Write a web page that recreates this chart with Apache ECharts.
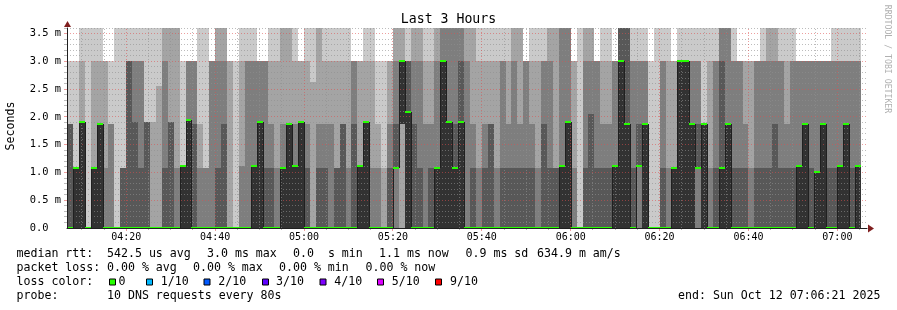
<!DOCTYPE html>
<html>
<head>
<meta charset="utf-8">
<script src="https://cdn.jsdelivr.net/npm/echarts@6/dist/echarts.min.js"></script>
<style>
html, body { margin: 0; padding: 0; background: #fff; }
#smokeChart { width: 897px; height: 310px; }
</style>
</head>
<body>
<div id="smokeChart"></div>
<script>
// smokeping DNS probe, last 3 hours, 10 pings per 80s step (values in ms, sorted per step)
const STEP = 80;           // seconds
const FIRST_STEP = 400;    // 04:06:40, seconds after 04:00
const AXIS_START = 400;    // 04:06:40
const AXIS_END = 11200;    // 07:06:40
const Y_MAX = 3.6;

const ping1 = [
  0,0,0,0,0,0,0,0,0,0, 0,0,0,0,0,0,0,0,0,0, 0,0,0,0,0,0,0,0,0,0, 0,0,0,0,0,0,0,0,0,0,
  0,0,0,0,0,0,0,0,0,0, 0,0,0,0,0,0,0,0,0,0, 0,0,0,0,0,0,0,0,0,0, 0,0,0,0,0,0,0,0,0,0,
  0,0,0,0,0,0,0,0,0,0, 0,0,0,0,0,0,0,0,0,0, 0,0,0,0,0,0,0,0,0,0, 0,0,0,0,0,0,0,0,0,0,
  0,0,0,0,0,0,0,0,0,0, 0,0,0,0
];
const ping2 = [
  0,0,0,0,0,0,0,0,0,0, 0,0,0,0,0,0,0,0,0,0, 0,0,0,0,0,0,0,0,0,0, 0,0,0,0,0,0,0,0,0,0,
  0,0,0,0,0,0,0,0,0,0, 0,0,0,0,0,0,0,0,0,0, 0,0,0,0,0,0,0,0,0,0, 0,0,0,0,0,0,0,0,0,0,
  0,0,0,0,0,0,0,0,0,0, 0,0,0,0,0,0,0,0,0,0, 0,0,0,0,0,0,0,0,0,0, 0,0,0,0,0,0,0,0,0,0,
  0,0,0,0,0,0,0,0,0,0, 0,0,0,0
];
const ping3 = [
  0,0,0,0,0,0,0,0,0,0, 0,0,0,0,0,0,0,0,0,0, 0,0,0,0,0,0,0,0,0,0, 0,0,0,0,0,0,0,0,0,0,
  0,0,0,0,0,0,0,0,0,0, 0,0,0,0,0,0,1.87,0,0,0, 0,0,0,0,0,0,0,0,0,0, 0,0,0,0,0,0,0,0,0,0,
  0,0,0,0,0,0,0,0,0,0, 0,0,0,0,0,0,0,0,0,0, 0,0,0,0,0,0,0,0,0,0, 0,0,0,0,0,0,0,0,0,0,
  0,0,0,0,0,0,0,0,0,0, 0,0,0,0
];
const ping4 = [
  0,0,0,0,0,0,0,0,0,0, 0,0,0,0,0,0,0,0,0,0, 0,0,0,0,0,0,0,0,0,0, 0,0,0,0,0,0,0,0,0,0,
  0,0,0,0,0,0,0,0,0,0, 0,0,0,0,0,1.08,1.87,0,0,0, 0,0,0,0,0,0,0,0,0,0, 0,0,0,0,0,0,0,0,0,0,
  0,0,0,0,0,0,0,0,0,0, 0,0,0,0,0,0,1.12,0,0,0, 0,0,0,0,0,0,1.08,0,0,0, 0,0,0,0,0,0,0,0,0,0,
  0,0,0,0,0,0,0,0,0,0, 0,0,0,0
];
const ping5 = [
  0,0,0,0,0,0,0,0,0,0, 0,0,0,0,0,0,0,0,0,0, 0,0,0,0,0,0,0,0,0,0, 0,0,0,0,0,0,0,0,0,0,
  0,0,0,0,0,0,0,0,0,0, 0,0,0,0,0,1.08,1.87,0,0,0, 0,0,0,0,0,0,0,0,0,0, 0,0,0,0,0,0,0,0,0,0,
  0,0,0,0,0,0,0,0,0,0, 0,0,0,0,0,0,1.12,0,0,0, 0,0,0,0,0,0,1.08,0,0,0, 0,0,0,0,0,0,0,0,0,0,
  0,0,0,0,0,0,0,0,0,0, 0,0,0,0
];
const ping6 = [
  0,1.08,1.91,0,1.08,1.87,0,0,0,0,  0,0,0,0,0,0,0,0,0,1.12,
  1.95,0,0,0,0,0,0,0,0,0,  0,1.12,1.91,0,0,0,1.08,1.87,1.12,1.91,
  0,0,0,0,0,0,0,0,0,1.12,  1.91,0,0,0,0,1.08,3.0,2.09,0,0,
  0,0,1.08,3.0,1.91,1.08,1.91,0,0,0,  0,0,0,0,0,0,0,0,0,0,
  0,0,0,1.12,1.91,0,0,0,0,0,  0,0,1.12,3.0,1.87,0,1.12,1.87,0,0,
  0,0,1.08,3.0,3.0,1.87,1.08,1.87,0,0,  1.08,1.87,0,0,0,0,0,0,0,0,
  0,0,0,1.12,1.87,0,1.01,1.87,0,0,  1.12,1.87,0,1.12
];
const ping7 = [
  1.87,1.08,1.91,0,1.08,1.87,0,0,0,1.08,  3.0,1.91,1.08,1.91,0,0,1.08,1.91,0,1.12,
  1.95,1.87,0,0,0,1.08,1.87,0,0,0,  0,1.12,1.91,1.08,1.08,0,1.08,1.87,1.12,1.91,
  1.08,0,1.08,1.08,0,1.08,1.87,0,1.87,1.12,  1.91,0,0,0,1.08,1.87,3.0,3.0,1.87,1.08,
  0,1.08,1.08,3.0,1.91,1.87,3.0,0,1.08,0,  1.08,1.87,0,1.08,1.08,1.08,1.08,1.08,1.08,0,
  1.87,1.08,1.08,1.12,1.91,0,0,1.08,2.05,1.08,  1.08,1.08,1.12,4,4,1.08,1.87,1.87,0,0,
  1.08,0,1.08,3.0,3.0,1.87,1.87,1.87,0,1.08,  3.0,1.87,1.08,1.08,1.08,0,1.08,1.08,1.08,1.87,
  1.08,1.08,1.08,1.12,1.87,1.08,1.01,1.87,1.08,1.08,  1.12,1.87,1.08,1.12
];
const ping8 = [
  1.87,1.08,1.91,0,1.08,1.87,1.08,1.87,0,1.08,  3.0,3.0,3.0,1.91,0,0,3.0,1.91,1.08,1.12,
  3.0,3.0,1.08,1.08,3.0,3.0,3.0,0,0,1.12,  3.0,3.0,3.0,3.0,1.87,1.08,1.87,1.87,1.87,1.91,
  1.87,0,1.87,1.87,1.87,1.08,1.87,1.08,3.0,1.12,  1.91,1.08,1.08,0,1.87,3.0,3.0,3.0,3.0,3.0,
  1.87,1.87,3.0,4,4,4,4,3.0,1.87,1.08,  1.87,1.87,1.08,3.0,1.87,3.0,1.87,3.0,1.87,1.08,
  3.0,3.0,1.08,4,4,1.08,0,3.0,3.0,3.0,  1.87,1.87,3.0,4,4,3.0,3.0,3.0,0,0,
  3.0,1.08,1.08,3.0,3.0,3.0,3.0,1.87,1.08,3.0,  4,4,3.0,3.0,1.87,1.08,3.0,3.0,3.0,3.0,
  3.0,1.87,3.0,3.0,3.0,3.0,3.0,3.0,3.0,3.0,  3.0,3.0,3.0,3.0
];
const ping9 = [
  1.87,1.08,3.0,0,3.0,3.0,3.0,1.87,0,1.08,  3.0,3.0,3.0,1.91,1.91,2.55,4,4,4,1.12,
  3.0,3.0,1.87,1.08,3.0,4,4,3.0,0,3.0,  3.0,3.0,3.0,3.0,3.0,3.0,4,4,3.0,3.0,
  3.0,2.63,4,3.0,3.0,3.0,3.0,3.0,3.0,3.0,  3.0,3.0,1.87,1.08,3.0,4,4,3.0,4,4,
  3.0,3.0,4,4,4,4,4,4,4,3.0,  3.0,3.0,3.0,3.0,3.0,4,4,3.0,3.0,3.0,
  3.0,4,4,4,4,3.0,0,4,4,3.0,  3.0,3.0,3.0,4,4,3.0,3.0,3.0,0,0,
  3.0,3.0,3.0,3.0,3.0,3.0,3.0,1.87,3.0,3.0,  4,4,3.0,3.0,3.0,3.0,3.0,3.0,4,4,
  3.0,3.0,3.0,3.0,3.0,3.0,3.0,3.0,3.0,3.0,  3.0,3.0,3.0,3.0
];
const ping10 = [
  3.0,3.0,4,4,4,4,3.0,3.0,4,4,  4,4,4,4,4,4,4,4,4,3.0,
  3.0,3.0,4,4,3.0,4,4,3.0,3.0,4,  4,4,3.0,3.0,4,4,4,4,4,3.0,
  4,4,4,4,4,4,4,4,3.0,3.0,  4,4,3.0,3.0,3.0,4,4,4,4,4,
  4,4,4,4,4,4,4,4,4,4,  4,4,4,4,4,4,4,3.0,4,4,
  4,4,4,4,4,3.0,4,4,4,3.0,  4,4,3.0,4,4,4,4,4,3.0,4,
  4,4,3.0,4,4,4,4,4,4,4,  4,4,4,3.0,3.0,3.0,3.0,4,4,4,
  4,4,4,3.0,3.0,3.0,3.0,3.0,3.0,4,  4,4,4,4
];
// smokeping's median is the 6th of the 10 sorted pings
const median = ping6;

// grid / tick positions
const yMajor = [0.5, 1.0, 1.5, 2.0, 2.5, 3.0, 3.5];
const yMinor = [0.1,0.2,0.3,0.4, 0.6,0.7,0.8,0.9, 1.1,1.2,1.3,1.4, 1.6,1.7,1.8,1.9,
                2.1,2.2,2.3,2.4, 2.6,2.7,2.8,2.9, 3.1,3.2,3.3,3.4, 3.6];
const xMajor = [1200, 2400, 3600, 4800, 6000, 7200, 8400, 9600, 10800];
const xLabels = ['04:20', '04:40', '05:00', '05:20', '05:40', '06:00', '06:20', '06:40', '07:00'];
const xMinor = [600, 900, 1500, 1800, 2100, 2700, 3000, 3300, 3900, 4200, 4500, 5100, 5400, 5700,
                6300, 6600, 6900, 7500, 7800, 8100, 8700, 9000, 9300, 9900, 10200, 10500, 11100];

const lossColors = ['#26ff00', '#00b8ff', '#0059ff', '#5e00ff', '#7e00ff', '#dd00ff', '#ff0000'];
const lossNames = ['0', '1/10', '2/10', '3/10', '4/10', '5/10', '9/10'];

const smokeColors = ['#cacaca', '#a4a4a4', '#7e7e7e', '#585858', '#323232'];
const GRID_COL = 'rgba(143,143,143,0.6)';
const MGRID_COL = 'rgba(222,79,79,0.55)';
const FONT = '"DejaVu Sans Mono", monospace';

const pings = [ping1, ping2, ping3, ping4, ping5, ping6, ping7, ping8, ping9, ping10];
const steps = ping1.map((_, i) => [FIRST_STEP + i * STEP, FIRST_STEP + (i + 1) * STEP, i]);

function stepEdges(api) {
    const xa = Math.round(api.coord([api.value(0), 0])[0]);
    const xb = Math.round(api.coord([api.value(1), 0])[0]);
    return [xa, xb];
}
function yPix(api, v) {
    return Math.round(api.coord([AXIS_START, Math.min(v, Y_MAX)])[1]);
}

function renderSmoke(params, api) {
    const i = api.value(2);
    const [xa, xb] = stepEdges(api);
    const children = [];
    for (let b = 0; b < 5; b++) {
        const lo = yPix(api, pings[b][i]);
        const hi = yPix(api, pings[9 - b][i]);
        if (lo - hi <= 0) continue;
        children.push({
            type: 'rect',
            shape: { x: xa, y: hi, width: xb - xa, height: lo - hi },
            style: { fill: smokeColors[b] }
        });
    }
    return { type: 'group', children };
}

function renderMedian(params, api) {
    const i = api.value(2);
    const [xa, xb] = stepEdges(api);
    const ym = yPix(api, median[i]);
    const children = [];
    if (i > 0) {
        const yp = yPix(api, median[i - 1]);
        if (yp !== ym) {
            children.push({
                type: 'line',
                shape: { x1: xa + 0.5, y1: yp, x2: xa + 0.5, y2: ym },
                style: { stroke: '#202020', lineWidth: 1 }
            });
        }
    }
    children.push({
        type: 'rect',
        shape: { x: xa, y: ym - 1, width: xb - xa, height: 2 },
        style: { fill: lossColors[0] }
    });
    return { type: 'group', children };
}

// dotted rrdtool grid, drawn above the smoke
const gridItems = []
    .concat(yMinor.map(v => [0, v, 0]))
    .concat(yMajor.map(v => [0, v, 1]))
    .concat(xMinor.map(v => [1, v, 0]))
    .concat(xMajor.map(v => [1, v, 1]));

function renderGrid(params, api) {
    const vertical = api.value(0) === 1;
    const v = api.value(1);
    const major = api.value(2) === 1;
    const col = major ? MGRID_COL : GRID_COL;
    const origin = api.coord([AXIS_START, 0]);
    const corner = api.coord([AXIS_END, Y_MAX]);
    if (!vertical) {
        const y = Math.floor(api.coord([AXIS_START, v])[1]) + 0.5;
        return { type: 'group', children: [
            { type: 'line', shape: { x1: origin[0], y1: y, x2: corner[0], y2: y },
              style: { stroke: col, lineWidth: 1, lineDash: [1, 2] } },
            { type: 'line', shape: { x1: origin[0] - 3, y1: y, x2: origin[0], y2: y },
              style: { stroke: col, lineWidth: 1 } }
        ]};
    }
    const x = Math.floor(api.coord([v, 0])[0]) + 0.5;
    return { type: 'group', children: [
        { type: 'line', shape: { x1: x, y1: origin[1], x2: x, y2: corner[1] },
          style: { stroke: col, lineWidth: 1, lineDash: [1, 2] } },
        { type: 'line', shape: { x1: x, y1: origin[1], x2: x, y2: origin[1] + (major ? 3 : 2) },
          style: { stroke: col, lineWidth: 1 } }
    ]};
}

function clock(sec) {
    const h = 4 + Math.floor(sec / 3600);
    const m = Math.floor((sec % 3600) / 60);
    return String(h).padStart(2, '0') + ':' + String(m).padStart(2, '0');
}

function legendText(x, y, s, extra) {
    return Object.assign({
        type: 'text', x: x, y: y, silent: true,
        style: { text: s, fill: '#000', font: '11.6px ' + FONT, verticalAlign: 'middle', align: 'left' }
    }, extra || {});
}

const row1 = 254, row2 = 268, row3 = 282, row4 = 296;
const graphics = [
    legendText(448.5, 19.5, 'Last 3 Hours', { style: { text: 'Last 3 Hours', fill: '#000', font: '13.2px ' + FONT, verticalAlign: 'middle', align: 'center' } }),
    legendText(11, 126, 'Seconds', { rotation: Math.PI / 2, style: { text: 'Seconds', fill: '#000', font: '11.6px ' + FONT, verticalAlign: 'middle', align: 'center' } }),
    legendText(887, 59, 'RRDTOOL / TOBI OETIKER', { rotation: -Math.PI / 2, style: { text: 'RRDTOOL / TOBI OETIKER', fill: '#b0b0b0', font: '8.2px ' + FONT, verticalAlign: 'middle', align: 'center' } }),

    legendText(16.5, row1, 'median rtt:'),
    legendText(107, row1, '542.5 us avg'),
    legendText(207, row1, '3.0 ms max'),
    legendText(293, row1, '0.0  s min'),
    legendText(379, row1, '1.1 ms now'),
    legendText(465.5, row1, '0.9 ms sd'),
    legendText(537, row1, '634.9 m am/s'),

    legendText(16.5, row2, 'packet loss:'),
    legendText(107, row2, '0.00 % avg'),
    legendText(193, row2, '0.00 % max'),
    legendText(279, row2, '0.00 % min'),
    legendText(365.5, row2, '0.00 % now'),

    legendText(16.5, row3, 'loss color:'),

    legendText(16.5, row4, 'probe:'),
    legendText(107, row4, '10 DNS requests every 80s'),
    legendText(678, row4, 'end: Sun Oct 12 07:06:21 2025'),

    // axis arrows
    { type: 'polygon', silent: true, shape: { points: [[64, 27], [67.5, 21], [71, 27]] }, style: { fill: '#801f1f' } },
    { type: 'polygon', silent: true, shape: { points: [[868, 224.5], [874, 228.5], [868, 232.5]] }, style: { fill: '#801f1f' } }
];
const boxX = [109.5, 146.5, 204, 262.5, 320, 377.5, 435.5];
const nameX = [118.5, 160.7, 218.3, 276, 334.3, 391.7, 450];
lossColors.forEach((c, k) => {
    graphics.push({ type: 'rect', silent: true, shape: { x: boxX[k], y: row3 - 3, width: 6, height: 6 },
                    style: { fill: c, stroke: '#000', lineWidth: 1 } });
    graphics.push(legendText(nameX[k], row3, lossNames[k]));
});

const chart = echarts.init(document.getElementById('smokeChart'), null, { renderer: 'canvas' });
chart.setOption({
    animation: false,
    backgroundColor: '#ffffff',
    grid: { left: 67, top: 28, width: 800, height: 200, outerBoundsMode: 'none', containLabel: false },
    xAxis: {
        type: 'value', min: AXIS_START, max: AXIS_END, z: 10,
        axisLine: { show: true, lineStyle: { color: '#1f1f1f', width: 1 } },
        axisTick: { show: false },
        splitLine: { show: false },
        axisLabel: {
            customValues: xMajor, margin: 4, color: '#000',
            fontFamily: 'DejaVu Sans Mono', fontSize: 10,
            formatter: v => xLabels[xMajor.indexOf(v)] || clock(v)
        }
    },
    yAxis: {
        type: 'value', min: 0, max: Y_MAX, interval: 0.5, z: 10,
        axisLine: { show: true, onZero: false, lineStyle: { color: '#1f1f1f', width: 1 } },
        axisTick: { show: false },
        splitLine: { show: false },
        axisLabel: {
            margin: 6, color: '#000', showMaxLabel: false,
            fontFamily: 'DejaVu Sans Mono', fontSize: 10.4,
            formatter: v => v === 0 ? '0.0  ' : v.toFixed(1) + ' m'
        }
    },
    series: [
        { type: 'custom', name: 'smoke', z: 1, silent: true, renderItem: renderSmoke,
          encode: { x: [0, 1], y: 2 }, data: steps },
        { type: 'custom', name: 'grid', z: 3, silent: true, renderItem: renderGrid,
          data: gridItems },
        { type: 'custom', name: 'median', z: 5, silent: true, renderItem: renderMedian,
          encode: { x: [0, 1] }, data: steps }
    ],
    graphic: graphics
});
</script>
</body>
</html>
